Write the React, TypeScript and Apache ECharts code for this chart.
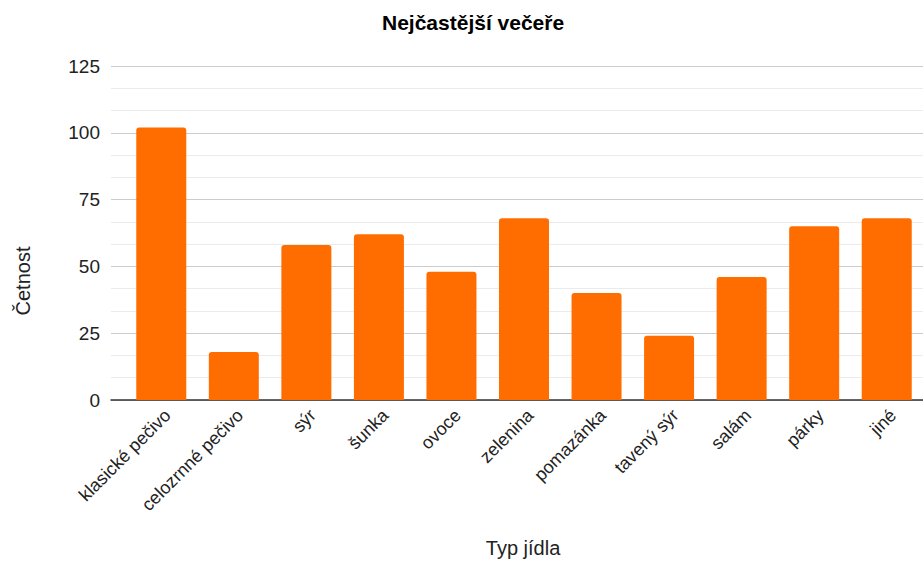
import React, { useEffect, useRef } from "react";
import * as echarts from "echarts";

const categories = [
  "klasické pečivo",
  "celozrnné pečivo",
  "sýr",
  "šunka",
  "ovoce",
  "zelenina",
  "pomazánka",
  "tavený sýr",
  "salám",
  "párky",
  "jiné",
];
const counts = [102, 18, 58, 62, 48, 68, 40, 24, 46, 65, 68];
const yMin = 0;
const yMax = 125;
const yInterval = 25;

const FONT = "'Liberation Sans', Arial, sans-serif";

export default function App() {
  const ref = useRef<HTMLDivElement>(null);
  useEffect(() => {
    if (!ref.current) return;
    const chart = echarts.init(ref.current, undefined, { renderer: "svg" });
    chart.setOption({
      animation: false,
      backgroundColor: "#ffffff",
      title: {
        text: "Nejčastější večeře",
        left: 382,
        top: 12,
        padding: 0,
        textStyle: { fontFamily: FONT, fontSize: 21, fontWeight: "bold", color: "#000" },
      },
      grid: [
        { left: 111, right: 0, top: 66, bottom: 161 },
        { left: 125, right: 0, top: 66, bottom: 161 },
      ],
      xAxis: [
        {
          type: "category",
          gridIndex: 0,
          data: categories,
          axisLine: { show: true, lineStyle: { color: "#333", width: 1.5 } },
          axisTick: { show: false },
          axisLabel: { show: false },
        },
        {
          type: "category",
          gridIndex: 1,
          data: categories,
          axisLine: { show: false },
          axisTick: { show: false },
          axisLabel: {
            rotate: 45,
            interval: 0,
            margin: 6,
            verticalAlign: "top",
            fontFamily: FONT,
            fontSize: 18,
            color: "#222",
          },
        },
      ],
      yAxis: [
        {
          type: "value",
          gridIndex: 0,
          min: yMin,
          max: yMax,
          interval: yInterval,
          axisLine: { show: false },
          axisTick: { show: false },
          axisLabel: { margin: 11, fontFamily: FONT, fontSize: 19, color: "#222" },
          splitLine: { show: true, lineStyle: { color: "#cccccc", width: 1 } },
          minorTick: { show: false, splitNumber: 3 },
          minorSplitLine: { show: true, lineStyle: { color: "#ebebeb", width: 1 } },
        },
        {
          type: "value",
          gridIndex: 1,
          min: yMin,
          max: yMax,
          interval: yInterval,
          show: false,
          splitLine: { show: false },
        },
      ],
      series: [
        {
          type: "bar",
          xAxisIndex: 1,
          yAxisIndex: 1,
          data: counts,
          barWidth: 50,
          itemStyle: { color: "#ff6d01", borderRadius: [3, 3, 0, 0] },
          z: 3,
        },
      ],
      graphic: [
        {
          type: "text",
          x: 23,
          y: 281,
          rotation: Math.PI / 2,
          style: {
            text: "Četnost",
            fontFamily: FONT,
            fontSize: 20,
            fill: "#222",
            textAlign: "center",
            textVerticalAlign: "middle",
          },
        },
        {
          type: "text",
          x: 523,
          y: 548,
          style: {
            text: "Typ jídla",
            fontFamily: FONT,
            fontSize: 20,
            fill: "#222",
            textAlign: "center",
            textVerticalAlign: "middle",
          },
        },
      ],
    });
    return () => chart.dispose();
  }, []);
  return <div ref={ref} style={{ width: 923, height: 561, position: "absolute", left: 0, top: 0 }} />;
}
